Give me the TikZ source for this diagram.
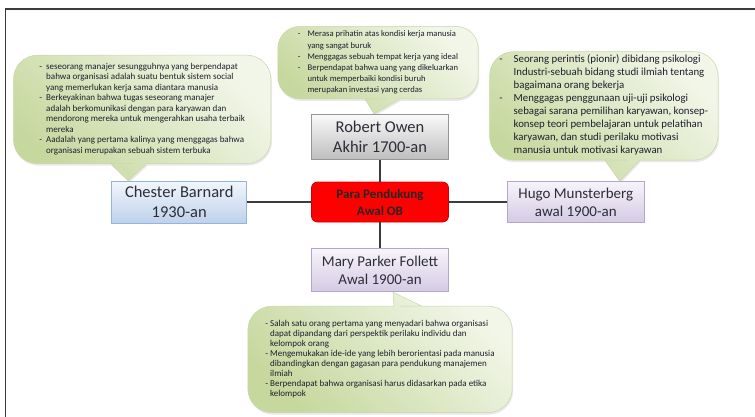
\documentclass[tikz,border=0pt]{standalone}
\usepackage{fontspec}
\setmainfont{Carlito}
\usetikzlibrary{positioning,calc,backgrounds,shadows}

\definecolor{framegray}{RGB}{60,60,60}
\definecolor{notedark}{RGB}{198,216,158}
\definecolor{notelight}{RGB}{242,246,232}
\definecolor{noteedge}{RGB}{200,214,170}
\definecolor{notetext}{RGB}{30,30,45}
\definecolor{boxtext}{RGB}{45,45,55}
\definecolor{owentop}{RGB}{250,250,250}
\definecolor{owenbot}{RGB}{190,190,190}
\definecolor{owenedge}{RGB}{150,150,150}
\definecolor{barnardtop}{RGB}{242,246,252}
\definecolor{barnardbot}{RGB}{190,210,236}
\definecolor{barnardedge}{RGB}{150,180,215}
\definecolor{lilactop}{RGB}{247,244,250}
\definecolor{lilacbot}{RGB}{212,202,228}
\definecolor{lilacedge}{RGB}{180,165,205}
\definecolor{pendukungred}{RGB}{255,0,0}

\begin{document}
\begin{tikzpicture}[x=1pt,y=-1pt,
  box/.style={draw,line width=0.8pt,minimum width=137pt,minimum height=42pt,inner sep=1pt,align=center,text=boxtext},
  link/.style={draw=framegray,line width=1.3pt},
  note/.style={inner sep=0pt,text=notetext},
  bubble/.style={draw=noteedge,line width=0.5pt,left color=notedark,right color=notelight,shading angle=135,
    drop shadow={opacity=0.18,shadow xshift=1pt,shadow yshift=-2pt}}]

\useasboundingbox (0,0) rectangle (755,417);
\draw[framegray,line width=1.5pt] (5.5,417) -- (5.5,9) -- (755,9);

% boxes
\node (pendukung) [box,fill=pendukungred,draw=red!80!black,rounded corners=6pt,minimum height=40pt,font=\fontsize{13}{17}\selectfont\bfseries,text=black!85] at (380,202) {Para Pendukung\\Awal OB};
\node (owen) [box,top color=owentop,bottom color=owenbot,draw=owenedge,minimum height=45pt,font=\fontsize{16.5}{19.5}\selectfont,above=22pt of pendukung] {Robert Owen\\Akhir 1700-an};
\node (chester) [box,top color=barnardtop,bottom color=barnardbot,draw=barnardedge,minimum width=135pt,font=\fontsize{16.5}{19.5}\selectfont,left=64pt of pendukung] {Chester Barnard\\1930-an};
\node (hugo) [box,top color=lilactop,bottom color=lilacbot,draw=lilacedge,minimum height=41pt,font=\fontsize{15}{18}\selectfont,right=58pt of pendukung] {Hugo Munsterberg\\awal 1900-an};
\node (mary) [box,top color=lilactop,bottom color=lilacbot,draw=lilacedge,minimum height=43pt,font=\fontsize{15}{18}\selectfont,below=26pt of pendukung] {Mary Parker Follett\\Awal 1900-an};

\draw[link] (pendukung) -- (owen);
\draw[link] (pendukung) -- (chester);
\draw[link] (pendukung) -- (hugo);
\draw[link] (pendukung) -- (mary);

% notes
\node (barnardnote) [note,minimum width=257pt,minimum height=108pt,font=\fontsize{9}{10.5}\selectfont,above=17pt of chester,xshift=-37pt] {\begin{tabular}{@{}l@{\hspace{4pt}}l@{}}
- & seseorang manajer sesungguhnya yang berpendapat\\
  & bahwa organisasi adalah suatu bentuk sistem social\\
  & yang memerlukan kerja sama diantara manusia\\
- & Berkeyakinan bahwa tugas seseorang manajer\\
  & adalah berkomunikasi dengan para karyawan dan\\
  & mendorong mereka untuk mengerahkan usaha terbaik\\
  & mereka\\
- & Aadalah yang pertama kalinya yang menggagas bahwa\\
  & organisasi merupakan sebuah sistem terbuka
\end{tabular}};
\node (owennote) [note,minimum width=200pt,minimum height=72pt,font=\fontsize{8.6}{11.2}\selectfont,above=15pt of owen,xshift=-2pt] {\begin{tabular}{@{}l@{\hspace{7pt}}l@{}}
- & Merasa prihatin atas kondisi kerja manusia\\
  & yang sangat buruk\\
- & Menggagas sebuah tempat kerja yang ideal\\
- & Berpendapat bahwa uang yang dikeluarkan\\
  & untuk memperbaiki kondisi buruh\\
  & merupakan investasi yang cerdas
\end{tabular}};
\node (hugonote) [note,minimum width=228pt,minimum height=108pt,font=\fontsize{10.8}{13}\selectfont,above=21pt of hugo,xshift=28pt] {\begin{tabular}{@{}l@{\hspace{11pt}}l@{}}
- & Seorang perintis (pionir) dibidang psikologi\\
  & Industri-sebuah bidang studi ilmiah tentang\\
  & bagaimana orang bekerja\\
- & Menggagas penggunaan uji-uji psikologi\\
  & sebagai sarana pemilihan karyawan, konsep-\\
  & konsep teori pembelajaran untuk pelatihan\\
  & karyawan, dan studi perilaku motivasi\\
  & manusia untuk motivasi karyawan
\end{tabular}};
\node (follettnote) [note,minimum width=264pt,minimum height=106pt,font=\fontsize{9}{10}\selectfont,below=14pt of mary] {\begin{tabular}{@{}l@{\hspace{2pt}}l@{}}
- & Salah satu orang pertama yang menyadari bahwa organisasi\\
  & dapat dipandang dari perspektik perilaku individu dan\\
  & kelompok orang\\
- & Mengemukakan ide-ide yang lebih berorientasi pada manusia\\
  & dibandingkan dengan gagasan para pendukung manajemen\\
  & ilmiah\\
- & Berpendapat bahwa organisasi harus didasarkan pada etika\\
  & kelompok
\end{tabular}};

% bubbles with tails
\begin{scope}[on background layer]
\path[bubble] (barnardnote.north) [rounded corners=24pt] -- (barnardnote.north west) -- (barnardnote.south west) -- ($(barnardnote.south)+(-33pt,0)$) [sharp corners] -- ($(barnardnote.south)+(-31.5pt,0)$) -- ($(chester.north west)+(17pt,0)$) -- ($(barnardnote.south)+(4.5pt,0)$) -- ($(barnardnote.south)+(6pt,0)$) [rounded corners=24pt] -- (barnardnote.south east) -- (barnardnote.north east) -- cycle;
\path[bubble] (owennote.north) [rounded corners=22pt] -- (owennote.north west) -- (owennote.south west) -- ($(owennote.south)+(-14.5pt,0)$) [sharp corners] -- ($(owennote.south)+(-13pt,0)$) -- ($(owen.north)+(-6pt,0)$) -- ($(owennote.south)+(22pt,0)$) -- ($(owennote.south)+(23.5pt,0)$) [rounded corners=22pt] -- (owennote.south east) -- (owennote.north east) -- cycle;
\path[bubble] (hugonote.north) [rounded corners=24pt] -- (hugonote.north west) -- (hugonote.south west) -- ($(hugonote.south)+(-0.5pt,0)$) [sharp corners] -- ($(hugonote.south)+(1pt,0)$) -- ($(hugo.north east)+(-25pt,0)$) -- ($(hugonote.south)+(36pt,0)$) -- ($(hugonote.south)+(37.5pt,0)$) [rounded corners=24pt] -- (hugonote.south east) -- (hugonote.north east) -- cycle;
\path[bubble] (follettnote.south) [rounded corners=24pt] -- (follettnote.south east) -- (follettnote.north east) -- ($(follettnote.north)+(43.5pt,0)$) [sharp corners] -- ($(follettnote.north)+(42pt,0)$) -- ($(mary.south)+(13pt,0)$) -- ($(follettnote.north)+(14pt,0)$) -- ($(follettnote.north)+(12.5pt,0)$) [rounded corners=24pt] -- (follettnote.north west) -- (follettnote.south west) -- cycle;
\end{scope}
\end{tikzpicture}
\end{document}
